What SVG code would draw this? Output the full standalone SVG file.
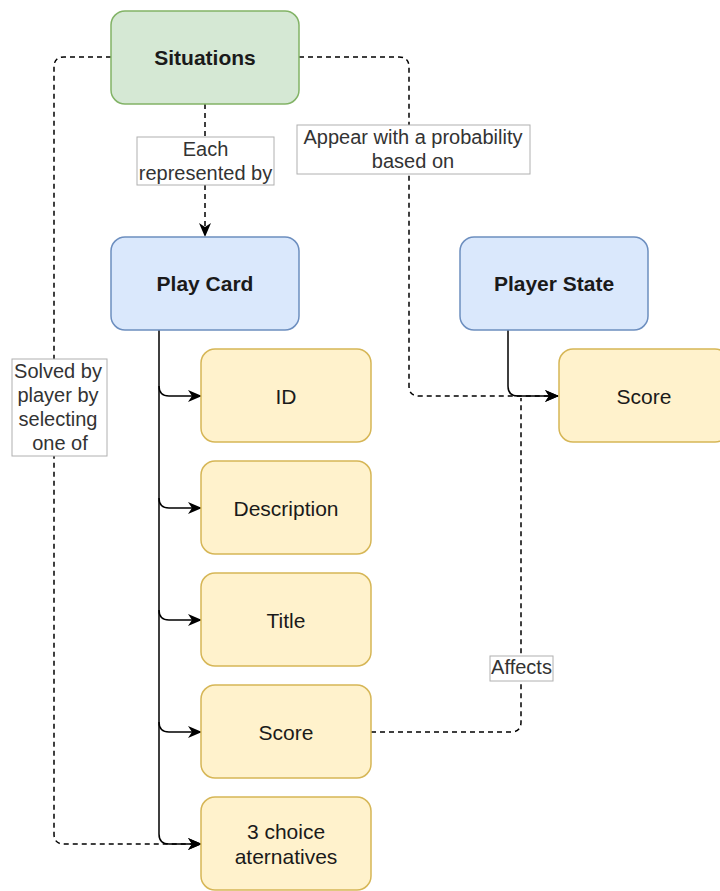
<svg xmlns="http://www.w3.org/2000/svg" width="720" height="891" viewBox="0 0 720 891">
<style>
.n{stroke-width:1.5}
.g{fill:#d5e8d4;stroke:#82b366}
.b{fill:#dae8fc;stroke:#6c8ebf}
.y{fill:#fff2cc;stroke:#d6b656}
.t{font-family:"Liberation Sans",Arial,sans-serif;font-size:21px;fill:#1a1a1a;text-anchor:middle}
.hb{font-weight:bold}
.lb{fill:#fff;stroke:#b0b0b0;stroke-width:1}
.lt{font-family:"Liberation Sans",Arial,sans-serif;font-size:20px;fill:#333;text-anchor:middle}
.e{fill:none;stroke:#000;stroke-width:1.5}
.d{stroke-dasharray:5 4}
</style>
<defs>
<marker id="ar" viewBox="0 0 14 12" refX="13" refY="6" markerWidth="14" markerHeight="12" markerUnits="userSpaceOnUse" orient="auto">
<path d="M0,0 L14,6 L0,12 L4,6 Z" fill="#000"/>
</marker>
</defs>
<g id="connectors">
<path class="e d" d="M205,104 V236" marker-end="url(#ar)"/>
<path class="e d" d="M111,57 H64 Q54,57 54,67 V834 Q54,844 64,844 H201" marker-end="url(#ar)"/>
<path class="e d" d="M299,57 H399 Q409,57 409,67 V386 Q409,396 419,396 H558" marker-end="url(#ar)"/>
<path class="e d" d="M371,732 H511 Q521,732 521,722 V398"/>
<path class="e" d="M508,330 V386 Q508,396 518,396 H558" marker-end="url(#ar)"/>
<path class="e" d="M159,330 V834 Q159,844 169,844 H201" marker-end="url(#ar)"/>
<path class="e" d="M159,386 Q159,396 169,396 H201" marker-end="url(#ar)"/>
<path class="e" d="M159,498 Q159,508 169,508 H201" marker-end="url(#ar)"/>
<path class="e" d="M159,610 Q159,620 169,620 H201" marker-end="url(#ar)"/>
<path class="e" d="M159,722 Q159,732 169,732 H201" marker-end="url(#ar)"/>
<g id="label-each">
<rect class="lb" x="137" y="137" width="137" height="48"/>
<text class="lt" x="205.5" y="156">Each</text>
<text class="lt" x="205.5" y="180">represented by</text>
</g>
<g id="label-appear">
<rect class="lb" x="297" y="125" width="233" height="49"/>
<text class="lt" x="413" y="144">Appear with a probability</text>
<text class="lt" x="413" y="168">based on</text>
</g>
<g id="label-solved">
<rect class="lb" x="12" y="359" width="95" height="97"/>
<text class="lt" x="58" y="378">Solved by</text>
<text class="lt" x="58" y="402">player by</text>
<text class="lt" x="58" y="426">selecting</text>
<text class="lt" x="60" y="450">one of</text>
</g>
<g id="label-affects">
<rect class="lb" x="490" y="656" width="63" height="25"/>
<text class="lt" x="521.5" y="674">Affects</text>
</g>
</g>
<g id="situations">
<rect class="n g" x="111" y="11" width="188" height="93" rx="14"/>
<text class="t hb" x="205" y="65">Situations</text>
</g>
<g id="play-card">
<rect class="n b" x="111" y="237" width="188" height="93" rx="14"/>
<text class="t hb" x="205" y="291">Play Card</text>
</g>
<g id="player-state">
<rect class="n b" x="460" y="237" width="188" height="93" rx="14"/>
<text class="t hb" x="554" y="291">Player State</text>
</g>
<g id="player-score">
<rect class="n y" x="559" y="349" width="170" height="93" rx="14"/>
<text class="t" x="644" y="404">Score</text>
</g>
<g id="id">
<rect class="n y" x="201" y="349" width="170" height="93" rx="14"/>
<text class="t" x="286" y="404">ID</text>
</g>
<g id="description">
<rect class="n y" x="201" y="461" width="170" height="93" rx="14"/>
<text class="t" x="286" y="516">Description</text>
</g>
<g id="title">
<rect class="n y" x="201" y="573" width="170" height="93" rx="14"/>
<text class="t" x="286" y="628">Title</text>
</g>
<g id="card-score">
<rect class="n y" x="201" y="685" width="170" height="93" rx="14"/>
<text class="t" x="286" y="740">Score</text>
</g>
<g id="choices">
<rect class="n y" x="201" y="797" width="170" height="93" rx="14"/>
<text class="t" x="286" y="839">3 choice</text>
<text class="t" x="286" y="864">aternatives</text>
</g>
</svg>
